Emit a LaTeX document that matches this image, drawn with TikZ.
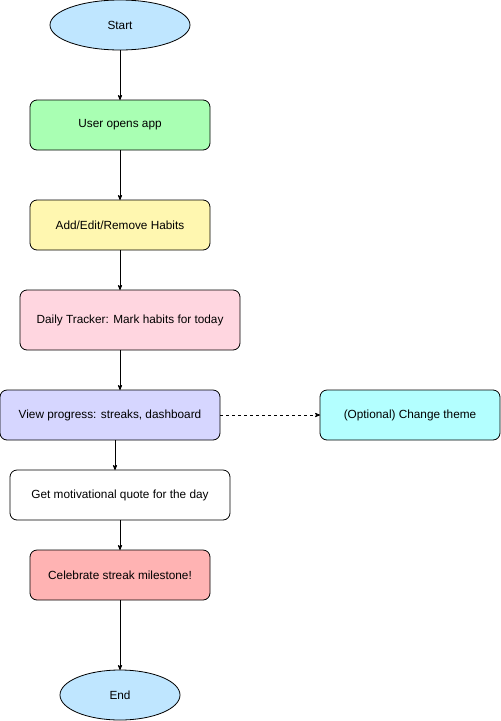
\documentclass[tikz,border=0pt]{standalone}
\usepackage{fontspec}
\setmainfont{Liberation Sans}
\usepackage{tikz}
\usetikzlibrary{arrows,positioning,shapes.geometric}

\definecolor{termblue}{HTML}{BFE6FF}
\definecolor{opengreen}{HTML}{A9FFB3}
\definecolor{edityellow}{HTML}{FFF7B0}
\definecolor{trackpink}{HTML}{FFD6E0}
\definecolor{viewlilac}{HTML}{D6D6FF}
\definecolor{themecyan}{HTML}{B3FFFF}
\definecolor{milered}{HTML}{FFB3B3}

\begin{document}
\begin{tikzpicture}[x=1pt,y=1pt,->,>=stealth',line width=0.8pt,
                    font=\fontsize{11.8}{14}\selectfont]
  \tikzstyle{term}=[ellipse,draw,fill=termblue,minimum width=140pt,minimum height=50pt,inner sep=0pt,outer sep=0pt]
  \tikzstyle{proc}=[rectangle,draw,rounded corners=7pt,minimum width=180pt,minimum height=50pt,inner sep=0pt,outer sep=0pt]
  \useasboundingbox (0,0) rectangle (501,-721);

  \node[term]                   (start) at (120,-25) {Start};
  \node[proc,fill=opengreen]    (open)  [below=50pt of start] {User opens app};
  \node[proc,fill=edityellow]   (edit)  [below=50pt of open] {Add/Edit/Remove Habits};
  \node[proc,fill=trackpink,minimum width=220pt,minimum height=60pt]
                                (track) [below=40pt of edit,xshift=10pt] {Daily Tracker: Mark habits for today};
  \node[proc,fill=viewlilac,minimum width=220pt]
                                (view)  [below=40pt of track,xshift=-20pt] {View progress: streaks, dashboard};
  \node[proc,fill=themecyan]    (theme) [right=100pt of view] {(Optional) Change theme};
  \node[proc,fill=white,minimum width=220pt]
                                (quote) [below=30pt of view,xshift=10pt] {Get motivational quote for the day};
  \node[proc,fill=milered]      (mile)  [below=30pt of quote] {Celebrate streak milestone!};
  \node[term,minimum width=120pt] (stop) [below=70pt of mile] {End};

  \draw (start) -- (open);
  \draw (open) -- (edit);
  \draw (edit.south) -- (edit.south |- track.north);
  \draw ([xshift=-10pt]track.south) -- ([xshift=10pt]view.north);
  \draw[dashed] (view) -- (theme);
  \draw ([xshift=5pt]view.south) -- ([xshift=-5pt]quote.north);
  \draw (quote) -- (mile);
  \draw (mile) -- (stop);
\end{tikzpicture}
\end{document}
